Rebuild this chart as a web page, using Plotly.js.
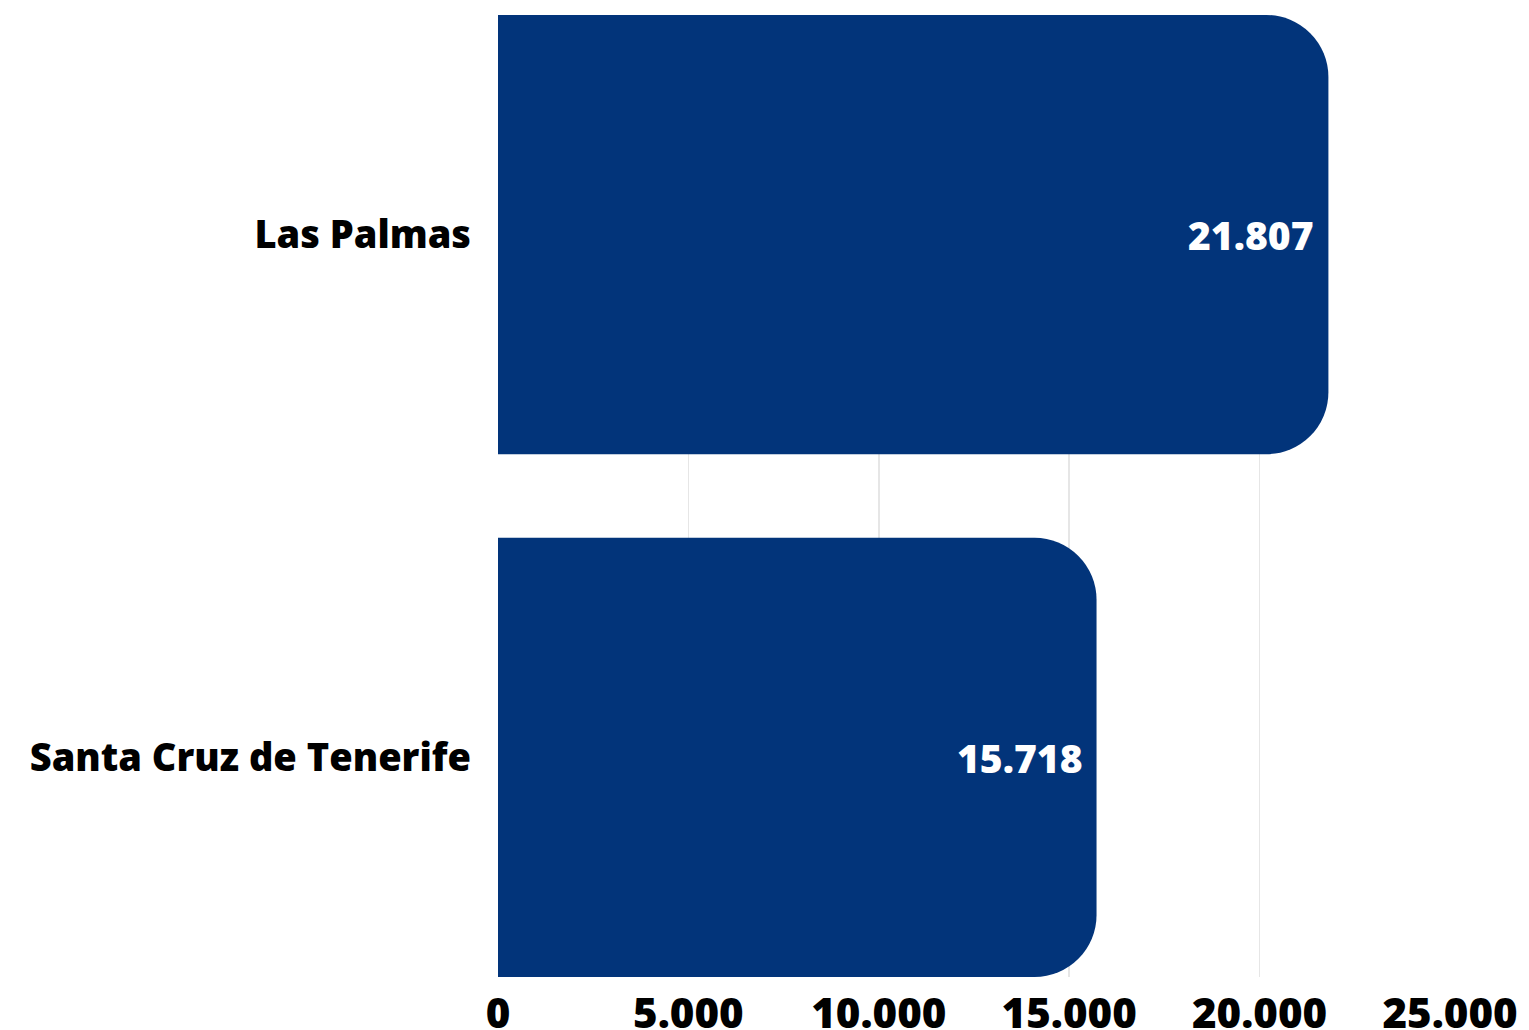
<!DOCTYPE html>
<html>
<head>
<meta charset="utf-8">
<script src="https://cdn.plot.ly/plotly-3.0.1.min.js"></script>
<style>html,body{margin:0;padding:0;background:#fff;}#chart{width:1529px;height:1030px;}</style>
</head>
<body>
<div id="chart"></div>
<script>
const categories = ["Las Palmas", "Santa Cruz de Tenerife"];
const values = [21807, 15718];
const xTicks = [0, 5000, 10000, 15000, 20000, 25000];

const fontFam = "'Open Sans', Lato, sans-serif";

function fmt(v) {
  return String(v).replace(/\B(?=(\d{3})+(?!\d))/g, ".");
}

const trace = {
  type: "bar",
  orientation: "h",
  y: categories,
  x: values,
  marker: { color: "#02347A", cornerradius: 62 },
  hoverinfo: "skip"
};

const annotations = categories.map((c, i) => ({
  x: values[i],
  y: c,
  xref: "x",
  yref: "y",
  text: fmt(values[i]),
  showarrow: false,
  xanchor: "right",
  yanchor: "middle",
  xshift: -12,
  font: { family: fontFam, size: 39, color: "#ffffff", weight: 800 }
}));

const layout = {
  width: 1529,
  height: 1030,
  margin: { l: 498, r: 79, t: 15, b: 53 },
  paper_bgcolor: "#ffffff",
  plot_bgcolor: "#ffffff",
  separators: ",.",
  showlegend: false,
  bargap: 0.16,
  font: { family: fontFam, color: "#000000" },
  annotations: annotations,
  xaxis: {
    range: [0, 25000],
    tickvals: xTicks,
    tickformat: ",d",
    showgrid: true,
    gridcolor: "#e6e6e6",
    gridwidth: 1.5,
    zeroline: false,
    showline: false,
    ticks: "",
    ticklabelstandoff: 8,
    tickfont: { family: fontFam, size: 42, color: "#000000", weight: 800 },
    fixedrange: true
  },
  yaxis: {
    type: "category",
    range: [1.42, -0.42],
    showgrid: false,
    zeroline: false,
    showline: false,
    ticks: "",
    ticklabelstandoff: 26,
    tickfont: { family: fontFam, size: 38, color: "#000000", weight: 800 },
    fixedrange: true
  }
};

Plotly.newPlot("chart", [trace], layout, { displayModeBar: false, staticPlot: true });
</script>
</body>
</html>
